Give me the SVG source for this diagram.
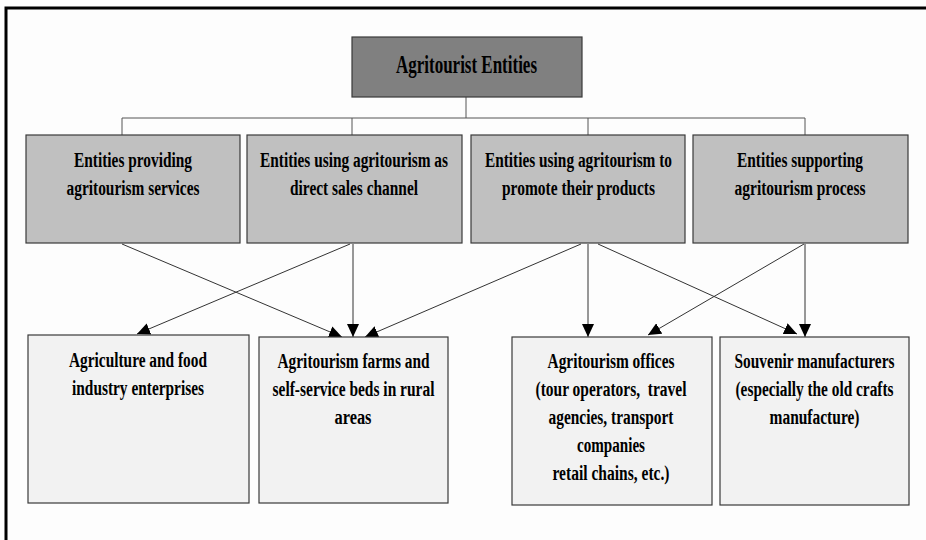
<svg xmlns="http://www.w3.org/2000/svg" width="926" height="540" viewBox="0 0 926 540">
<style>
  .box{stroke:#3a3a3a;stroke-width:1.2}
  .top{fill:#808080}
  .mid{fill:#c0c0c0}
  .bot{fill:#f2f2f2}
  .t{font-family:"Liberation Serif","Times New Roman",serif;font-weight:bold;font-size:16px;fill:#000;text-anchor:middle}
  .tt{font-size:19px}
  .tree{stroke:#555;stroke-width:1;fill:none}
  .arr{stroke:#333;stroke-width:1;fill:none;marker-end:url(#ah)}
</style>
<defs>
  <marker id="ah" markerUnits="userSpaceOnUse" markerWidth="14" markerHeight="12" viewBox="0 0 14 12" refX="13" refY="6" orient="auto">
    <path d="M0,0 L13,6 L0,12 Z" fill="#000"/>
  </marker>
</defs>
<rect x="0" y="0" width="926" height="540" fill="#fdfdfd"/>
<path d="M6,540 L6,8 L926,8" fill="none" stroke="#000" stroke-width="3"/>

<g id="connectors">
  <path class="tree" d="M466,97 L466,118 M122,118 L805,118 M122,118 L122,135 M352,118 L352,135 M588,118 L588,135 M805,118 L805,135"/>
  <line class="arr" x1="122" y1="244" x2="342" y2="337"/>
  <line class="arr" x1="353" y1="244" x2="353" y2="337"/>
  <line class="arr" x1="350" y1="244" x2="137" y2="334"/>
  <line class="arr" x1="581" y1="244" x2="365" y2="337"/>
  <line class="arr" x1="588" y1="244" x2="588" y2="337"/>
  <line class="arr" x1="598" y1="244" x2="797" y2="334"/>
  <line class="arr" x1="805" y1="244" x2="805" y2="337"/>
  <line class="arr" x1="804" y1="244" x2="648" y2="335"/>
</g>

<g id="root">
  <rect class="box top" x="352" y="37" width="230" height="60"/>
  <text class="t tt" transform="translate(466.5,73) scale(1,1.37)" textLength="141" lengthAdjust="spacingAndGlyphs">Agritourist Entities</text>
</g>

<g id="providing">
  <rect class="box mid" x="26" y="135" width="214" height="108"/>
  <text class="t" transform="translate(133,167) scale(1,1.32)" textLength="118" lengthAdjust="spacingAndGlyphs">Entities providing</text>
  <text class="t" transform="translate(133,195) scale(1,1.32)" textLength="133" lengthAdjust="spacingAndGlyphs">agritourism services</text>
</g>
<g id="direct-sales">
  <rect class="box mid" x="247" y="135" width="215" height="108"/>
  <text class="t" transform="translate(354,167) scale(1,1.32)" textLength="188" lengthAdjust="spacingAndGlyphs">Entities using agritourism as</text>
  <text class="t" transform="translate(354,195) scale(1,1.32)" textLength="128" lengthAdjust="spacingAndGlyphs">direct sales channel</text>
</g>
<g id="promote">
  <rect class="box mid" x="471" y="135" width="214" height="108"/>
  <text class="t" transform="translate(578.5,167) scale(1,1.32)" textLength="187" lengthAdjust="spacingAndGlyphs">Entities using agritourism to</text>
  <text class="t" transform="translate(578.5,195) scale(1,1.32)" textLength="153" lengthAdjust="spacingAndGlyphs">promote their products</text>
</g>
<g id="supporting">
  <rect class="box mid" x="693" y="135" width="215" height="108"/>
  <text class="t" transform="translate(800,167) scale(1,1.32)" textLength="126" lengthAdjust="spacingAndGlyphs">Entities supporting</text>
  <text class="t" transform="translate(800,195) scale(1,1.32)" textLength="131" lengthAdjust="spacingAndGlyphs">agritourism process</text>
</g>

<g id="agri-food">
  <rect class="box bot" x="28" y="335" width="221" height="168"/>
  <text class="t" transform="translate(138,367) scale(1,1.32)" textLength="138" lengthAdjust="spacingAndGlyphs">Agriculture and food</text>
  <text class="t" transform="translate(138,395) scale(1,1.32)" textLength="132" lengthAdjust="spacingAndGlyphs">industry enterprises</text>
</g>
<g id="farms">
  <rect class="box bot" x="259" y="337" width="189" height="166"/>
  <text class="t" transform="translate(353.5,368) scale(1,1.32)" textLength="152" lengthAdjust="spacingAndGlyphs">Agritourism farms and</text>
  <text class="t" transform="translate(353.5,396) scale(1,1.32)" textLength="162" lengthAdjust="spacingAndGlyphs">self-service beds in rural</text>
  <text class="t" transform="translate(353,424) scale(1,1.32)" textLength="37" lengthAdjust="spacingAndGlyphs">areas</text>
</g>
<g id="offices">
  <rect class="box bot" x="512" y="337" width="200" height="168"/>
  <text class="t" transform="translate(611,368) scale(1,1.32)" textLength="127" lengthAdjust="spacingAndGlyphs">Agritourism offices</text>
  <text class="t" transform="translate(611,396) scale(1,1.32)" textLength="151" lengthAdjust="spacingAndGlyphs" xml:space="preserve">(tour operators,  travel</text>
  <text class="t" transform="translate(611,424) scale(1,1.32)" textLength="125" lengthAdjust="spacingAndGlyphs">agencies, transport</text>
  <text class="t" transform="translate(611,452) scale(1,1.32)" textLength="68" lengthAdjust="spacingAndGlyphs">companies</text>
  <text class="t" transform="translate(611,480) scale(1,1.32)" textLength="117" lengthAdjust="spacingAndGlyphs">retail chains, etc.)</text>
</g>
<g id="souvenir">
  <rect class="box bot" x="720" y="337" width="189" height="168"/>
  <text class="t" transform="translate(814.5,368) scale(1,1.32)" textLength="160" lengthAdjust="spacingAndGlyphs">Souvenir manufacturers</text>
  <text class="t" transform="translate(814.5,396) scale(1,1.32)" textLength="158" lengthAdjust="spacingAndGlyphs">(especially the old crafts</text>
  <text class="t" transform="translate(814.5,424) scale(1,1.32)" textLength="90" lengthAdjust="spacingAndGlyphs">manufacture)</text>
</g>
</svg>
